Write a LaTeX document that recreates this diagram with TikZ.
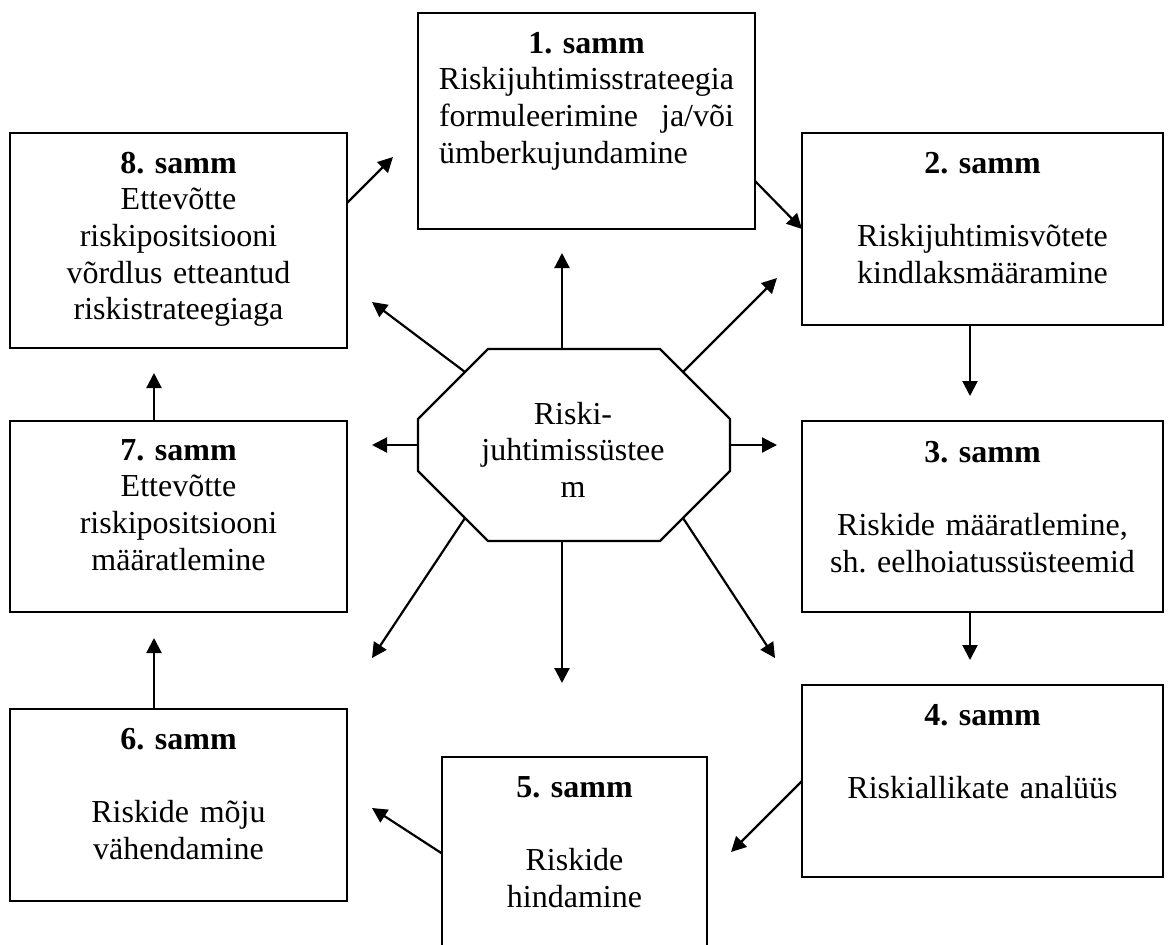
\documentclass[tikz,border=0pt]{standalone}
\usepackage{fontspec}
\setmainfont{Liberation Serif}
\usetikzlibrary{arrows.meta,calc}
\begin{document}
\frenchspacing
\begin{tikzpicture}[x=0.5pt,y=-0.5pt,
  stepbox/.style={draw,line width=1.1pt,inner sep=0pt,outer sep=0pt,fill=white},
  txt/.style={anchor=base,align=center,inner sep=0pt,font=\fontsize{16}{18.35}\selectfont\frenchspacing},
  arr/.style={line width=1.1pt,-{Triangle[length=7.5pt,width=7.5pt]}}]
\useasboundingbox (0,0) rectangle (1169,944);
\fill[white] (0,0) rectangle (1169,944);
\clip (0,0) rectangle (1169,944);

% boxes
\node[stepbox,minimum width=168.5pt,minimum height=108pt] (b1) at (586.5,121) {};
\node[stepbox,minimum width=180.5pt,minimum height=96pt] (b2) at (982.5,229) {};
\node[stepbox,minimum width=180.5pt,minimum height=95.5pt] (b3) at (982.5,516.5) {};
\node[stepbox,minimum width=180.5pt,minimum height=96pt] (b4) at (982.5,781) {};
\node[stepbox,minimum width=132.5pt,minimum height=96.5pt] (b5) at (574.5,853.5) {};
\node[stepbox,minimum width=168.5pt,minimum height=96pt] (b6) at (178.5,805) {};
\node[stepbox,minimum width=168.5pt,minimum height=95.5pt] (b7) at (178.5,516.5) {};
\node[stepbox,minimum width=168.5pt,minimum height=107.5pt] (b8) at (178.5,240.5) {};

% octagon
\node[inner sep=0pt,outer sep=0pt,minimum width=156pt,minimum height=96pt] (oct) at (574,445) {};
\draw[line width=1.1pt,fill=white]
  ($(oct.north west)+(70,0)$) -- ($(oct.north east)+(-70,0)$) -- ($(oct.north east)+(0,70)$)
  -- ($(oct.south east)+(0,-70)$) -- ($(oct.south east)+(-70,0)$) -- ($(oct.south west)+(70,0)$)
  -- ($(oct.south west)+(0,-70)$) -- ($(oct.north west)+(0,70)$) -- cycle;

% texts
\node[txt,text width=148pt] (t1) at (586.5,53) {\textbf{1. samm}\\Riskijuhtimisstrateegia\\\makebox[147.5pt]{formuleerimine\hfill ja/või}\\\makebox[147.5pt]{ümberkujundamine\hfill}};
\node[txt,text width=170pt] (t2) at (982.5,173) {\textbf{2. samm}\\\mbox{}\\Riskijuhtimisvõtete\\kindlaksmääramine};
\node[txt,text width=170pt] (t3) at (982.5,462) {\textbf{3. samm}\\\mbox{}\\Riskide määratlemine,\\sh. eelhoiatussüsteemid};
\node[txt,text width=170pt] (t4) at (982.5,725) {\textbf{4. samm}\\\mbox{}\\Riskiallikate analüüs};
\node[txt,text width=125pt] (t5) at (574.5,797) {\textbf{5. samm}\\\mbox{}\\Riskide\\hindamine};
\node[txt,text width=160pt] (t6) at (178.5,749) {\textbf{6. samm}\\\mbox{}\\Riskide mõju\\vähendamine};
\node[txt,text width=160pt] (t7) at (178.5,460) {\textbf{7. samm}\\Ettevõtte\\riskipositsiooni\\määratlemine};
\node[txt,text width=160pt] (t8) at (178.5,173) {\textbf{8. samm}\\Ettevõtte\\riskipositsiooni\\võrdlus etteantud\\riskistrateegiaga};
\node[txt,text width=150pt] (toct) at (573,424) {Riski-\\juhtimissüstee\\m};

% cycle arrows
\coordinate (e81) at (393,157);
\draw[arr] ($(b8.east)+(0,-37.5)$) -- (e81);
\draw[arr] ($(b1.east)+(0,60)$) -- (b2.west);
\coordinate (e23) at (970,396);
\draw[arr] ($(b2.south)+(-12.5,0)$) -- (e23);
\coordinate (e34) at (970,660);
\draw[arr] ($(b3.south)+(-12.5,0)$) -- (e34);
\coordinate (e45) at (731,852);
\draw[arr] (b4.west) -- (e45);
\coordinate (e56) at (372,808);
\draw[arr] (b5.west) -- (e56);
\coordinate (e67) at (154,638);
\draw[arr] ($(b6.north)+(-24.5,0)$) -- (e67);
\coordinate (e78) at (154,373);
\draw[arr] ($(b7.north)+(-24.5,0)$) -- (e78);

% octagon arrows
\coordinate (eu) at (562,253);
\draw[arr] ($(oct.north)+(-12,0)$) -- (eu);
\coordinate (ed) at (562,683);
\draw[arr] ($(oct.south)+(-12,0)$) -- (ed);
\coordinate (el) at (372,445);
\draw[arr] (oct.west) -- (el);
\coordinate (er) at (777,445);
\draw[arr] (oct.east) -- (er);
\coordinate (eur) at (777,278);
\draw[arr] ($(oct.center)+(109,-73)$) -- (eur);
\coordinate (eul) at (372,302);
\draw[arr] ($(oct.center)+(-109,-73)$) -- (eul);
\coordinate (ell) at (372,658);
\draw[arr] ($(oct.center)+(-109,73)$) -- (ell);
\coordinate (elr) at (775,658);
\draw[arr] ($(oct.center)+(109,73)$) -- (elr);
\end{tikzpicture}
\end{document}
